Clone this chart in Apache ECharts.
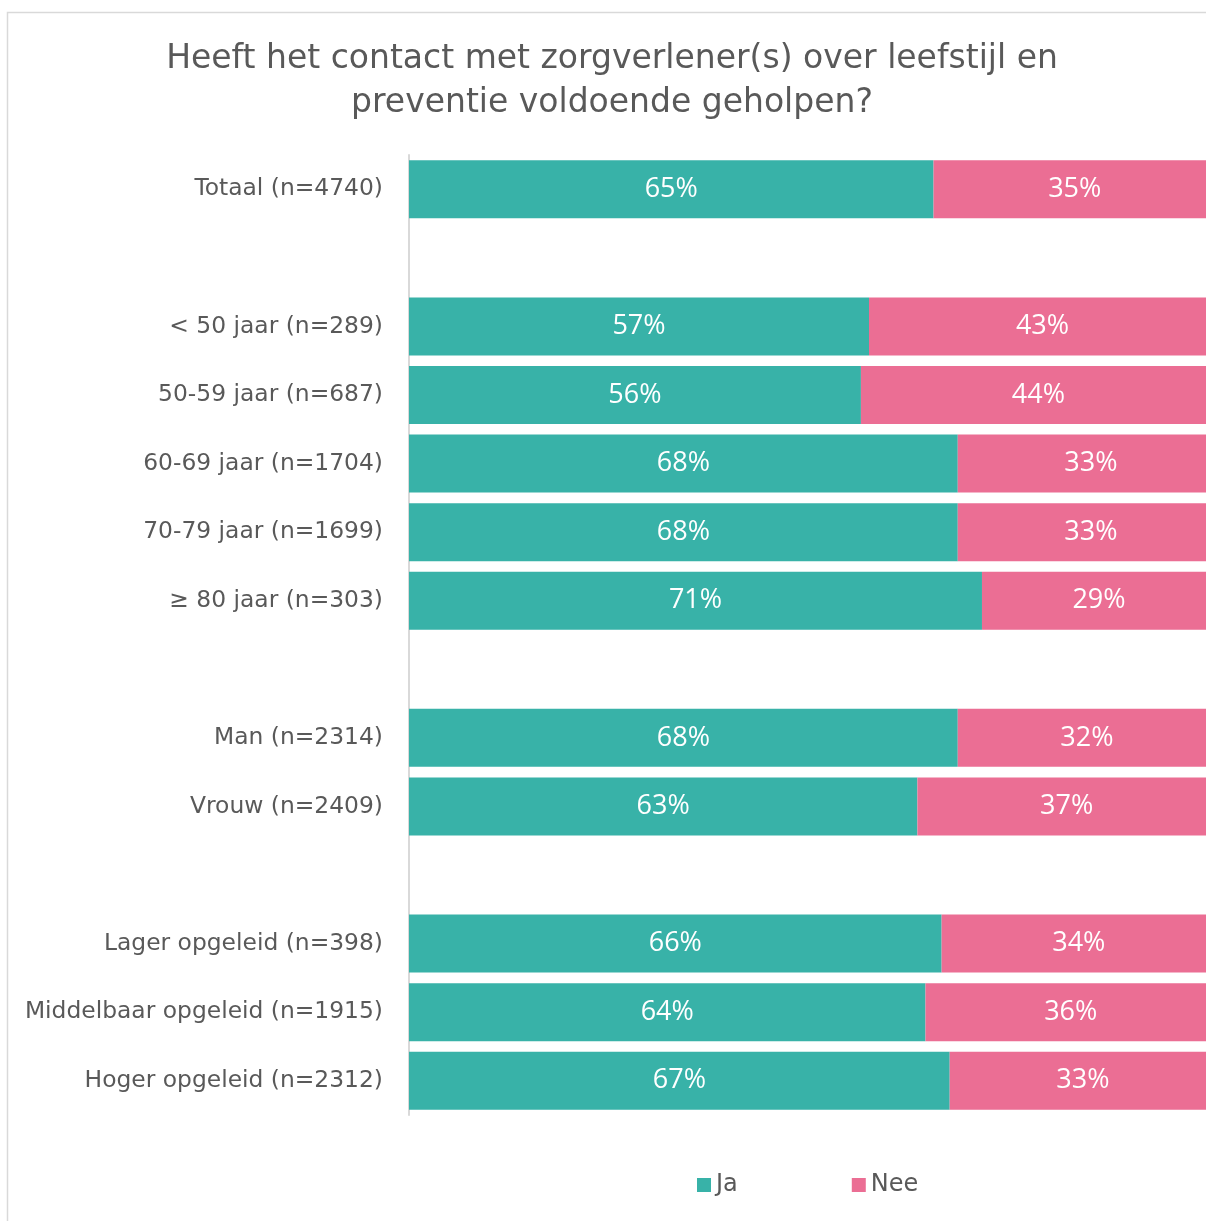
<!DOCTYPE html>
<html>
<head>
<meta charset="utf-8">
<script src="https://cdn.jsdelivr.net/npm/echarts@6/dist/echarts.min.js"></script>
<style>
  html, body { margin: 0; padding: 0; background: #ffffff; }
  #chart { width: 1206px; height: 1221px; }
</style>
</head>
<body>
<div id="chart"></div>
<script>
// Groups are separated by empty rows (unique blank names)
const categories = [
  'Totaal (n=4740)',
  ' ',
  '< 50 jaar (n=289)',
  '50-59 jaar (n=687)',
  '60-69 jaar (n=1704)',
  '70-79 jaar (n=1699)',
  '\u2265 80 jaar (n=303)',
  '  ',
  'Man (n=2314)',
  'Vrouw (n=2409)',
  '   ',
  'Lager opgeleid (n=398)',
  'Middelbaar opgeleid (n=1915)',
  'Hoger opgeleid (n=2312)'
];
const jaValues  = [65, null, 57, 56, 68, 68, 71, null, 68, 63, null, 66, 64, 67];
const neeValues = [35, null, 43, 44, 33, 33, 29, null, 32, 37, null, 34, 36, 33];
const seriesNames = ['Ja', 'Nee'];
const titleLines = ['Heeft het contact met zorgverlener(s) over leefstijl en', 'preventie voldoende geholpen?'];

const textFont = '"DejaVu Sans", sans-serif';
const labelFont = '"Open Sans", "Noto Sans", sans-serif';
const teal = '#38B2A8';
const pink = '#EB6E94';
const grey = '#595959';

// The 100% end of the stack lies just past the right edge of the page,
// so the visible axis stops a little short of 100.
const visibleMax = 98.76;

const chart = echarts.init(document.getElementById('chart'), null, { renderer: 'canvas' });

const barLabel = {
  show: true,
  position: 'inside',
  color: '#ffffff',
  fontFamily: labelFont,
  fontSize: 27,
  padding: [2, 0, 0, 0],
  formatter: p => (p.value == null ? '' : p.value + '%')
};

chart.setOption({
  animation: false,
  backgroundColor: '#ffffff',
  graphic: [{
    type: 'polyline',
    shape: { points: [[7.5, 1221], [7.5, 12.5], [1206, 12.5]] },
    style: { stroke: '#D9D9D9', lineWidth: 1.5, fill: null },
    silent: true
  }],
  title: {
    text: titleLines.join('\n'),
    left: 607,
    textAlign: 'center',
    top: 32,
    textStyle: {
      fontFamily: textFont,
      fontSize: 33,
      fontWeight: 'normal',
      color: grey,
      lineHeight: 44
    }
  },
  legend: {
    data: seriesNames,
    left: 692,
    top: 1168,
    itemWidth: 14,
    itemHeight: 14,
    itemGap: 114,
    icon: 'rect',
    textStyle: { fontFamily: textFont, fontSize: 24, color: grey }
  },
  grid: { left: 409, right: 0, top: 155, height: 960, containLabel: false },
  xAxis: {
    type: 'value',
    min: 0,
    max: visibleMax,
    show: false
  },
  yAxis: {
    type: 'category',
    data: categories,
    inverse: true,
    axisLine: { show: true, lineStyle: { color: '#D9D9D9', width: 2 } },
    axisTick: { show: false },
    axisLabel: {
      fontFamily: textFont,
      fontSize: 23.4,
      color: grey,
      margin: 26,
      padding: [4, 0, 0, 0]
    }
  },
  series: [
    {
      name: seriesNames[0],
      type: 'bar',
      stack: 'total',
      barWidth: 58,
      clip: false,
      data: jaValues,
      itemStyle: { color: teal },
      label: barLabel
    },
    {
      name: seriesNames[1],
      type: 'bar',
      stack: 'total',
      barWidth: 58,
      clip: false,
      data: neeValues,
      itemStyle: { color: pink },
      label: barLabel
    }
  ]
});
</script>
</body>
</html>
